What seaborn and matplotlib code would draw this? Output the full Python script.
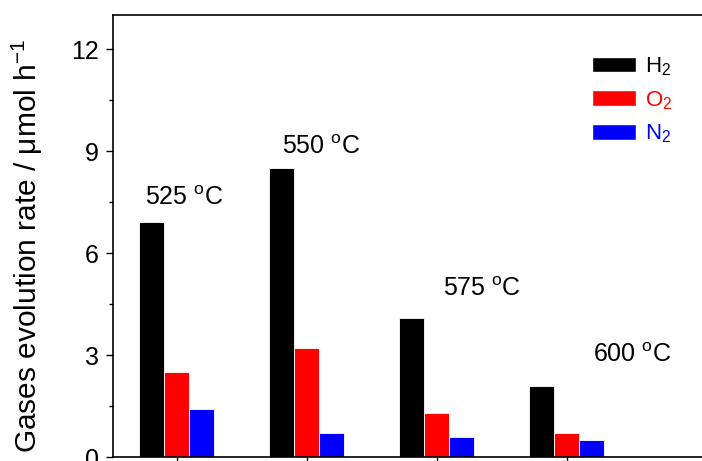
import matplotlib
matplotlib.use("Agg")
import matplotlib.pyplot as plt
import seaborn as sns
import pandas as pd
from matplotlib.patches import Patch
from matplotlib.ticker import MultipleLocator

temps = ["525", "550", "575", "600"]
gases = ["H$_2$", "O$_2$", "N$_2$"]
h2 = [6.9, 8.5, 4.1, 2.1]
o2 = [2.5, 3.2, 1.3, 0.7]
n2 = [1.4, 0.7, 0.6, 0.5]
colors = ["#000000", "#ff0000", "#0000ff"]
label_texts = ["525 $^{\\rm o}$C", "550 $^{\\rm o}$C", "575 $^{\\rm o}$C", "600 $^{\\rm o}$C"]
label_x = [0.06, 1.11, 2.35, 3.5]
label_y = [7.62, 9.12, 4.95, 2.99]

sns.set_style("ticks")
plt.rcParams["font.family"] = ["Liberation Sans", "DejaVu Sans"]
plt.rcParams["mathtext.fontset"] = "custom"
plt.rcParams["mathtext.rm"] = "Liberation Sans"
plt.rcParams["mathtext.it"] = "Liberation Sans:italic"
plt.rcParams["text.color"] = "black"
plt.rcParams["axes.labelcolor"] = "black"
plt.rcParams["xtick.color"] = "black"
plt.rcParams["ytick.color"] = "black"

rows = []
for vals, g in zip([h2, o2, n2], gases):
    for t, v in zip(temps, vals):
        rows.append({"temp": t, "gas": g, "rate": v})
df = pd.DataFrame(rows)

W, H = 702, 461
fig = plt.figure(figsize=(W / 100, H / 100), dpi=100)
ax = fig.add_axes([113 / W, 4 / H, 640 / W, (457 - 15) / H])

sns.barplot(data=df, x="temp", y="rate", hue="gas", palette=colors,
            width=0.58, ax=ax, legend=False, edgecolor="white", linewidth=0.6,
            saturation=1)

ax.set_xlim(-0.49, -0.49 + 640 / 130)
ax.set_ylim(0, 13)
ax.yaxis.set_major_locator(MultipleLocator(3))
ax.yaxis.set_minor_locator(MultipleLocator(1.5))
ax.tick_params(axis="y", which="major", direction="out", length=5, width=1, labelsize=18, pad=5)
ax.tick_params(axis="y", which="minor", direction="out", length=3, width=1)
ax.tick_params(axis="x", which="major", direction="out", length=5, width=1, labelbottom=False)
ax.set_xlabel("")
ax.set_ylabel("Gases evolution rate / μmol h$^{-1}$", fontsize=21.5)
ax.yaxis.set_label_coords((45 - 113) / 640, (457 - 246) / 442)
for s in ["left", "top", "bottom", "right"]:
    ax.spines[s].set_visible(True)
    ax.spines[s].set_linewidth(1.2)
    ax.spines[s].set_color("black")

for t, x, y in zip(label_texts, label_x, label_y):
    ax.text(x, y, t, ha="center", va="center", fontsize=18)

handles = [Patch(facecolor=c, edgecolor="white") for c in colors]
leg = ax.legend(handles, gases, loc="upper left", bbox_to_anchor=(470 / 640, 0.929),
                frameon=False, fontsize=16, handlelength=2.0, handleheight=0.7,
                labelspacing=0.5, handletextpad=0.4, borderaxespad=0)
for txt, c in zip(leg.get_texts(), colors):
    txt.set_color(c)

fig.savefig("out.png", dpi=100)
